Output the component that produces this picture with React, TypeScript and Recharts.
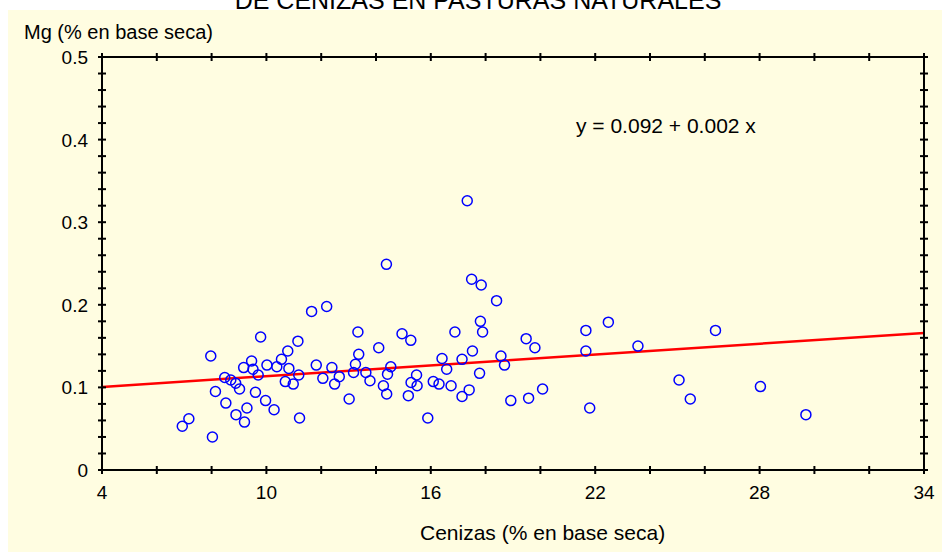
import React from 'react';
import { ScatterChart, Scatter, XAxis, YAxis, ReferenceLine } from 'recharts';

// Cenizas (% en base seca), one value per sample
const cenizas = [
  9.79, 7.97, 9.17, 9.46, 9.51, 9.7, 10.02, 10.38, 10.55, 10.78,
  10.82, 11.15, 8.48, 8.7, 8.88, 9.02, 8.14, 9.6, 10.69, 10.98,
  8.52, 9.97, 9.29, 10.28, 8.89, 9.2, 7.17, 6.93, 8.03, 11.21,
  11.18, 11.82, 12.06, 12.39, 12.49, 12.66, 13.02, 13.18, 13.25, 13.37,
  13.34, 13.63, 13.78, 14.1, 14.27, 14.39, 14.42, 14.54, 14.95, 14.38,
  11.65, 12.2, 15.27, 15.28, 15.18, 15.48, 15.5, 17.33, 17.49, 17.84,
  18.4, 17.81, 17.89, 16.88, 19.48, 19.8, 17.52, 16.41, 17.14, 16.58,
  18.56, 18.69, 17.78, 16.09, 16.3, 16.74, 17.4, 17.14, 15.89, 18.92,
  19.57, 20.08, 21.66, 22.48, 21.66, 23.56, 21.8, 26.39, 25.06, 25.47,
  28.03, 29.69,
];

// Mg (% en base seca), same order as cenizas
const magnesio = [
  0.161, 0.138, 0.124, 0.132, 0.122, 0.115, 0.127, 0.125, 0.134, 0.144,
  0.123, 0.156, 0.112, 0.109, 0.105, 0.098, 0.095, 0.094, 0.107, 0.104,
  0.081, 0.084, 0.075, 0.073, 0.067, 0.058, 0.062, 0.053, 0.04, 0.063,
  0.115, 0.127, 0.111, 0.124, 0.104, 0.113, 0.086, 0.118, 0.128, 0.14,
  0.167, 0.118, 0.108, 0.148, 0.102, 0.092, 0.116, 0.125, 0.165, 0.249,
  0.192, 0.198, 0.157, 0.106, 0.09, 0.115, 0.102, 0.326, 0.231, 0.224,
  0.205, 0.18, 0.167, 0.167, 0.159, 0.148, 0.144, 0.135, 0.134, 0.122,
  0.138, 0.127, 0.117, 0.107, 0.104, 0.102, 0.097, 0.089, 0.063, 0.084,
  0.087, 0.098, 0.169, 0.179, 0.144, 0.15, 0.075, 0.169, 0.109, 0.086,
  0.101, 0.067,
];

// linear fit Mg = a + b * cenizas
const intercept = 0.0918;
const slope = 0.00218;

const xTicks = [4, 6, 8, 10, 12, 14, 16, 18, 20, 22, 24, 26, 28, 30, 32, 34];
const xLabels = [4, 10, 16, 22, 28, 34];
const yTicks = [
  0, 0.02, 0.04, 0.06, 0.08, 0.1, 0.12, 0.14, 0.16, 0.18, 0.2, 0.22, 0.24,
  0.26, 0.28, 0.3, 0.32, 0.34, 0.36, 0.38, 0.4, 0.42, 0.44, 0.46, 0.48, 0.5,
];
const yLabels = [0, 0.1, 0.2, 0.3, 0.4, 0.5];

const puntos = cenizas.map((x, i) => ({ x, y: magnesio[i] }));

const FONT = '"Liberation Sans", Arial, sans-serif';
const BG = '#FFFDE1';

const XTick = ({ x, y, payload, top }: any) => {
  const v = payload.value;
  return (
    <g>
      <line x1={x} x2={x} y1={y - 4} y2={y + 4} stroke="#000" strokeWidth={2} />
      {!top && xLabels.includes(v) && (
        <text x={x} y={y + 29} textAnchor="middle" fontSize={19} fill="#000">
          {v}
        </text>
      )}
    </g>
  );
};

const YTick = ({ x, y, payload, right }: any) => {
  const v = payload.value;
  const major = yLabels.some((l) => Math.abs(l - v) < 1e-6);
  return (
    <g>
      <line x1={x - 4} x2={x + 4} y1={y} y2={y} stroke="#000" strokeWidth={2} />
      {!right && major && (
        <text x={x - 14} y={y + 7} textAnchor="end" fontSize={19} fill="#000">
          {v === 0 ? '0' : v.toFixed(1)}
        </text>
      )}
    </g>
  );
};

const Punto = ({ cx, cy }: any) => (
  <circle cx={cx} cy={cy} r={5} fill="none" stroke="#0000FF" strokeWidth={1.5} />
);

// the top/right frame axes get an invisible series of their own
const Nada = () => <g />;

const axisLine = { stroke: '#000', strokeWidth: 2 };

export default function App() {
  return (
    <div
      style={{
        position: 'absolute',
        left: 0,
        top: 0,
        width: 942,
        height: 552,
        background: '#fff',
        overflow: 'hidden',
        fontFamily: FONT,
        color: '#000',
      }}
    >
      <div style={{ position: 'absolute', left: 8, top: 10, width: 934, height: 542, background: BG }}>
        <ScatterChart width={934} height={542} margin={{ top: 46, right: 17, bottom: 52, left: 34 }}>
          <XAxis
            xAxisId="bottom"
            dataKey="x"
            type="number"
            domain={[4, 34]}
            ticks={xTicks}
            interval={0}
            allowDataOverflow
            height={30}
            tickSize={0}
            tickMargin={0}
            tickLine={false}
            axisLine={axisLine}
            tick={<XTick />}
          />
          <XAxis
            xAxisId="top"
            orientation="top"
            dataKey="x"
            type="number"
            domain={[4, 34]}
            ticks={xTicks}
            interval={0}
            allowDataOverflow
            height={1}
            tickSize={0}
            tickMargin={0}
            tickLine={false}
            axisLine={axisLine}
            tick={<XTick top />}
          />
          <YAxis
            yAxisId="left"
            dataKey="y"
            type="number"
            domain={[0, 0.5]}
            ticks={yTicks}
            interval={0}
            allowDataOverflow
            width={60}
            tickSize={0}
            tickMargin={0}
            tickLine={false}
            axisLine={axisLine}
            tick={<YTick />}
          />
          <YAxis
            yAxisId="right"
            orientation="right"
            dataKey="y"
            type="number"
            domain={[0, 0.5]}
            ticks={yTicks}
            interval={0}
            allowDataOverflow
            width={1}
            tickSize={0}
            tickMargin={0}
            tickLine={false}
            axisLine={axisLine}
            tick={<YTick right />}
          />
          <Scatter
            data={puntos}
            xAxisId="top"
            yAxisId="right"
            shape={<Nada />}
            isAnimationActive={false}
          />
          <Scatter
            data={puntos}
            xAxisId="bottom"
            yAxisId="left"
            shape={<Punto />}
            isAnimationActive={false}
          />
          <ReferenceLine
            xAxisId="bottom"
            yAxisId="left"
            segment={[
              { x: 4, y: intercept + slope * 4 },
              { x: 34, y: intercept + slope * 34 },
            ]}
            stroke="#FF0000"
            strokeWidth={2.5}
          />
        </ScatterChart>
      </div>

      <div
        style={{
          position: 'absolute',
          left: 0,
          top: -15,
          width: 956,
          textAlign: 'center',
          fontSize: 25,
          lineHeight: '30px',
          whiteSpace: 'nowrap',
        }}
      >
        DE CENIZAS EN PASTURAS NATURALES
      </div>
      <div style={{ position: 'absolute', left: 24, top: 20, fontSize: 20, lineHeight: '24px', whiteSpace: 'nowrap' }}>
        Mg (% en base seca)
      </div>
      <div style={{ position: 'absolute', left: 576, top: 114, fontSize: 21, lineHeight: '24px', whiteSpace: 'nowrap' }}>
        y = {intercept.toFixed(3)} + {slope.toFixed(3)} x
      </div>
      <div style={{ position: 'absolute', left: 420, top: 521, fontSize: 21, lineHeight: '24px', whiteSpace: 'nowrap' }}>
        Cenizas (% en base seca)
      </div>
    </div>
  );
}
